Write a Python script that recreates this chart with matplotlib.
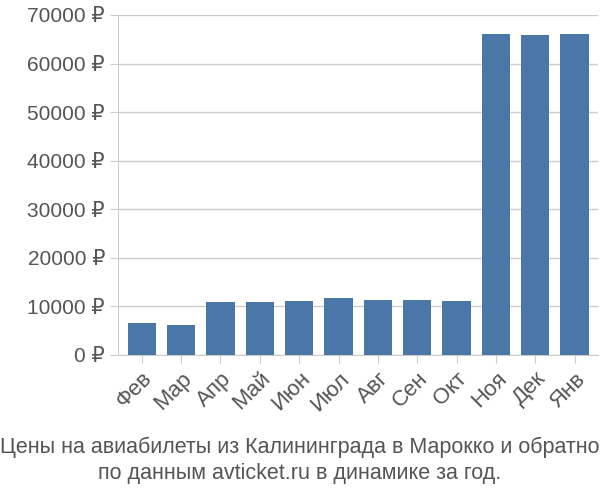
import matplotlib
matplotlib.use("Agg")
from matplotlib import pyplot as plt

months = ['Фев', 'Мар', 'Апр', 'Май', 'Июн', 'Июл', 'Авг', 'Сен', 'Окт', 'Ноя', 'Дек', 'Янв']
prices = [6500, 6100, 11000, 10900, 11200, 11700, 11300, 11300, 11100, 66000, 65800, 66000]
yticks = [0, 10000, 20000, 30000, 40000, 50000, 60000, 70000]

plt.rcParams['font.family'] = ['Liberation Sans', 'DejaVu Sans']

fig = plt.figure(figsize=(6, 5), dpi=100)
ax = fig.add_axes([0.197, 0.29, 0.8, 0.68])

x = range(len(months))
ax.bar(x, prices, width=0.72, color='#4a76a8', zorder=3)
ax.set_xlim(-0.6, len(months) - 0.4)
ax.set_ylim(0, 70000)
ax.set_yticks(yticks)
ax.set_yticklabels(['{} ₽'.format(v) for v in yticks], fontsize=15, color='#555555')
ax.set_xticks(list(x))
ax.set_xticklabels(months, rotation=45, ha='right', rotation_mode='anchor', fontsize=16, color='#555555')
ax.grid(True, axis='y', color='#cccccc', linewidth=1, zorder=0)
ax.tick_params(length=6, color='#cccccc')
for side in ['top', 'right']:
    ax.spines[side].set_visible(False)
ax.spines['left'].set_color('#cccccc')
ax.spines['bottom'].set_color('#cccccc')

fig.text(0.5, 0.08, 'Цены на авиабилеты из Калининграда в Марокко и обратно\nпо данным avticket.ru в динамике за год.',
         ha='center', va='center', fontsize=15.5, color='#555555', linespacing=1.3)

fig.savefig('out.png')
